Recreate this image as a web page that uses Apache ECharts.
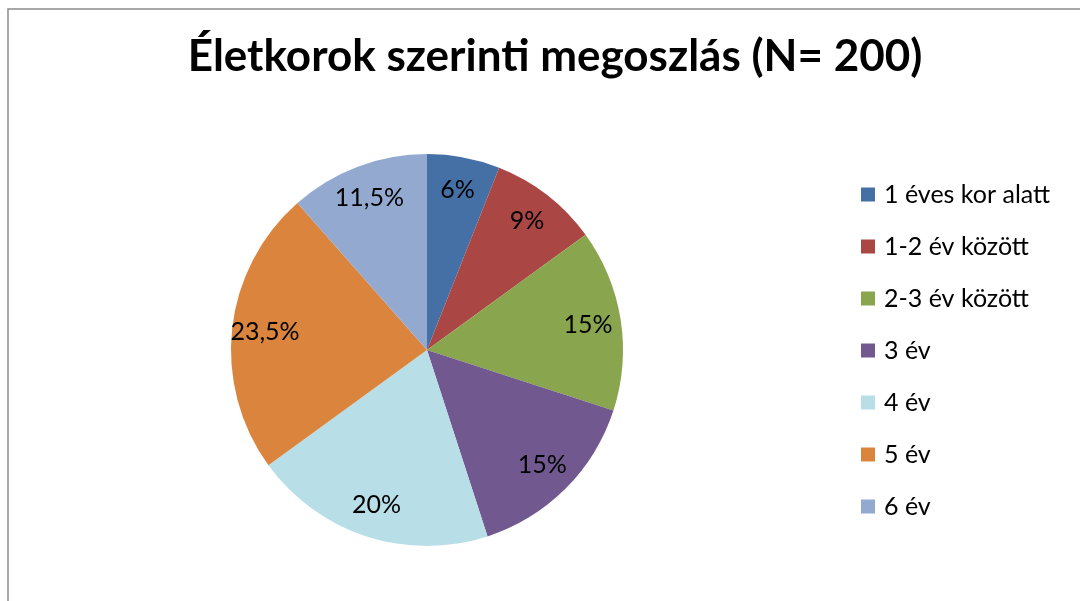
<!DOCTYPE html>
<html lang="hu">
<head>
    <meta charset="UTF-8">
    <title>Életkorok szerinti megoszlás</title>
    <script src="https://cdn.jsdelivr.net/npm/echarts@6/dist/echarts.min.js"></script>
    <style>
        body {
            padding: 0;
            margin: 0;
            border: none;
            overflow: hidden;
            background: #fff;
        }
        #echart {
            width: 1080px;
            height: 601px;
        }
    </style>
</head>
<body>
    <div id="echart"></div>
<script>
let categories = ['1 éves kor alatt', '1-2 év között', '2-3 év között', '3 év', '4 év', '5 év', '6 év'];
let values = [6, 9, 15, 15, 20, 23.5, 11.5];
let valueLabels = ['6%', '9%', '15%', '15%', '20%', '23,5%', '11,5%'];
let colors = ['#4470a6', '#aa4744', '#89a54e', '#71588f', '#b8dee8', '#db843d', '#93a9cf'];

let font = 'Lato, "Open Sans", sans-serif';
let data = categories.map((c, i) => ({ name: c, value: values[i] }));

let ec = echarts.init(document.getElementById('echart'));
ec.setOption({
    animation: false,
    color: colors,
    title: {
        text: 'Életkorok szerinti megoszlás (N= 200)',
        left: 550,
        textAlign: 'center',
        top: 30,
        textStyle: {
            fontFamily: font,
            fontWeight: 'bold',
            fontSize: 44,
            color: '#000'
        }
    },
    legend: {
        orient: 'vertical',
        left: 856,
        top: 177,
        itemWidth: 14,
        itemHeight: 14,
        itemGap: 27,
        icon: 'rect',
        data: categories,
        textStyle: {
            fontFamily: font,
            fontSize: 25,
            lineHeight: 20,
            color: '#000',
            padding: [0, 0, 0, 4]
        }
    },
    graphic: [{
        type: 'rect',
        shape: { x: 8, y: 9, width: 1200, height: 800 },
        style: { fill: 'none', stroke: '#8c8c8c', lineWidth: 1.5 },
        silent: true
    }],
    series: [
        {
            type: 'pie',
            center: [427, 350],
            radius: [0, 196],
            startAngle: 90,
            data: data,
            label: { show: false },
            labelLine: { show: false },
            itemStyle: { borderWidth: 0 }
        },
        {
            // transparent ring only to carry the labels further out
            type: 'pie',
            center: [427, 350],
            radius: [124, 196],
            startAngle: 90,
            silent: true,
            data: data,
            itemStyle: { color: 'rgba(0,0,0,0)', borderWidth: 0 },
            label: {
                show: true,
                position: 'inside',
                formatter: p => valueLabels[p.dataIndex],
                fontFamily: font,
                fontSize: 25,
                color: '#000'
            },
            labelLine: { show: false }
        }
    ]
});
</script>
</body>
</html>
